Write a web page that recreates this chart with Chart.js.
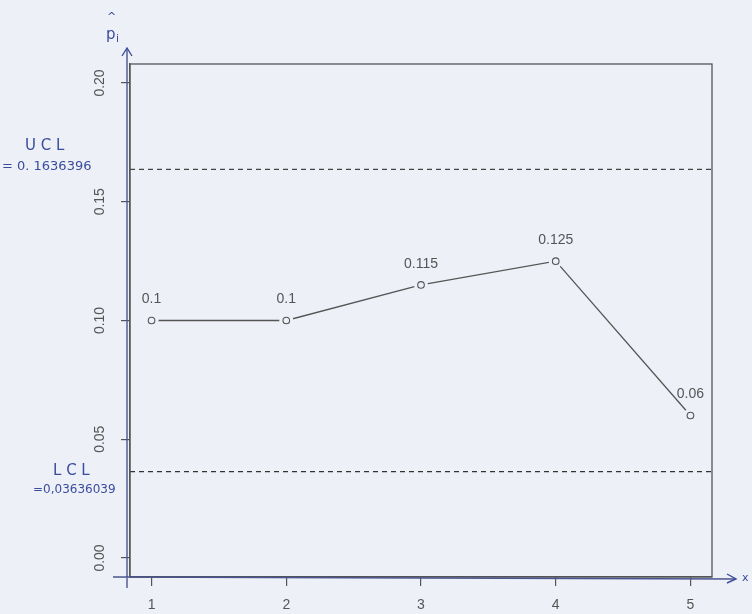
<!DOCTYPE html>
<html>
<head>
<meta charset="utf-8">
<script src="https://cdn.jsdelivr.net/npm/chart.js@4.4.0/dist/chart.umd.min.js"></script>
<style>
  html, body { margin: 0; padding: 0; background: #eef0f8; }
  #wrap { width: 752px; height: 614px; }
</style>
</head>
<body>
<div id="wrap"><canvas id="pchart" width="752" height="614"></canvas></div>
<script>
// datos de la carta p
var muestras = [1, 2, 3, 4, 5];
var proporciones = [0.1, 0.1, 0.115, 0.125, 0.06];
var etiquetasPuntos = ["0.1", "0.1", "0.115", "0.125", "0.06"];
var ucl = 0.1636396;
var lcl = 0.03636039;
var xTicks = [1, 2, 3, 4, 5];
var xTickLabels = ["1", "2", "3", "4", "5"];
var yTicks = [0, 0.05, 0.1, 0.15, 0.2];
var yTickLabels = ["0.00", "0.05", "0.10", "0.15", "0.20"];
var xLimites = [0.84, 5.16];
var yLimites = [-0.008, 0.208];

var fondo = "#eef0f8";
var gris = "#555555";
var tinta = "#3a4c9c"; // azul de las anotaciones a mano

var puntos = muestras.map(function (m, i) { return { x: m, y: proporciones[i] }; });

// texto de etiquetas, ejes y anotaciones
var dibujos = {
  id: "dibujos",
  beforeDraw: function (chart) {
    var c = chart.ctx;
    c.save();
    c.fillStyle = fondo;
    c.fillRect(0, 0, chart.width, chart.height);
    c.restore();
  },
  afterDraw: function (chart) {
    var c = chart.ctx;
    var a = chart.chartArea;
    var xs = chart.scales.x, ys = chart.scales.y;
    c.save();

    // caja
    c.strokeStyle = gris;
    c.lineWidth = 1.3;
    c.strokeRect(a.left, a.top, a.right - a.left, a.bottom - a.top);

    // etiquetas de los ejes
    c.fillStyle = gris;
    c.font = "14px 'Liberation Sans', Arial, sans-serif";
    c.textAlign = "center";
    c.textBaseline = "middle";
    xTicks.forEach(function (v, i) {
      c.fillText(xTickLabels[i], xs.getPixelForValue(v), a.bottom + 28);
    });
    yTicks.forEach(function (v, i) {
      c.save();
      c.translate(a.left - 30, ys.getPixelForValue(v));
      c.rotate(-Math.PI / 2);
      c.fillText(yTickLabels[i], 0, 0);
      c.restore();
    });

    // valores sobre los puntos
    puntos.forEach(function (p, i) {
      c.fillText(etiquetasPuntos[i], xs.getPixelForValue(p.x), ys.getPixelForValue(p.y) - 21);
    });

    // flechas a mano
    c.strokeStyle = "#4a5590";
    c.lineWidth = 1.4;
    c.beginPath();
    c.moveTo(a.left - 3, a.bottom + 11);
    c.lineTo(a.left - 3, a.top - 15);
    c.moveTo(a.left - 17, a.bottom);
    c.lineTo(a.right + 23, a.bottom + 2);
    c.stroke();
    c.strokeStyle = tinta;
    c.beginPath();
    c.moveTo(a.left - 8, a.top - 8);
    c.lineTo(a.left - 3, a.top - 16);
    c.lineTo(a.left + 2, a.top - 8);
    c.moveTo(a.right + 15, a.bottom - 3);
    c.lineTo(a.right + 24, a.bottom + 2);
    c.lineTo(a.right + 15, a.bottom + 6);
    c.stroke();

    // anotaciones
    c.fillStyle = tinta;
    c.textAlign = "left";
    c.font = "15px 'DejaVu Sans', sans-serif";
    c.fillText("p", a.left - 24, a.top - 29);
    c.font = "11px 'DejaVu Sans', sans-serif";
    c.fillText("^", a.left - 23, a.top - 47);
    c.fillText("i", a.left - 14, a.top - 25);
    c.fillText("x", a.right + 30, a.bottom + 1);

    c.font = "15px 'DejaVu Sans', sans-serif";
    c.fillText("U C L", 25, ys.getPixelForValue(ucl) - 23);
    c.font = "13px 'DejaVu Sans', sans-serif";
    c.fillText("= 0. 1636396", 2, ys.getPixelForValue(ucl) - 3);
    c.font = "15px 'DejaVu Sans', sans-serif";
    c.fillText("L C L", 53, ys.getPixelForValue(lcl) - 1);
    c.font = "12px 'DejaVu Sans', sans-serif";
    c.fillText("=0,03636039", 33, ys.getPixelForValue(lcl) + 18);
    c.restore();
  }
};

var ctx = document.getElementById("pchart").getContext("2d");

var myChart = new Chart(ctx, {
  type: "line",
  data: {
    datasets: [
      {
        // circulos abiertos
        data: puntos,
        showLine: false,
        pointRadius: 3.3,
        pointBorderWidth: 1.1,
        pointBorderColor: gris,
        pointBackgroundColor: fondo,
        order: 0
      },
      {
        // linea con huecos en los puntos (tipo "b" de R)
        data: puntos,
        borderColor: gris,
        borderWidth: 1.3,
        pointRadius: 7,
        pointBorderWidth: 0,
        pointBackgroundColor: fondo,
        order: 1
      },
      {
        data: [{ x: xLimites[0], y: ucl }, { x: xLimites[1], y: ucl }],
        borderColor: "#444",
        borderWidth: 1.2,
        borderDash: [5, 4],
        pointRadius: 0,
        order: 2
      },
      {
        data: [{ x: xLimites[0], y: lcl }, { x: xLimites[1], y: lcl }],
        borderColor: "#333",
        borderWidth: 1.3,
        borderDash: [5, 4],
        pointRadius: 0,
        order: 2
      }
    ]
  },
  options: {
    responsive: false,
    animation: false,
    layout: { padding: { left: 121, top: 64, right: 40, bottom: 28 } },
    plugins: { legend: { display: false }, tooltip: { enabled: false } },
    scales: {
      x: {
        type: "linear",
        min: xLimites[0],
        max: xLimites[1],
        afterBuildTicks: function (s) { s.ticks = xTicks.map(function (v) { return { value: v }; }); },
        ticks: { display: false },
        grid: { drawOnChartArea: false, tickLength: 9, color: gris, lineWidth: 1.2 },
        border: { color: gris, width: 1.3 }
      },
      y: {
        min: yLimites[0],
        max: yLimites[1],
        afterBuildTicks: function (s) { s.ticks = yTicks.map(function (v) { return { value: v }; }); },
        ticks: { display: false },
        grid: { drawOnChartArea: false, tickLength: 9, color: gris, lineWidth: 1.2 },
        border: { color: gris, width: 1.3 }
      }
    }
  },
  plugins: [dibujos]
});
</script>
</body>
</html>
